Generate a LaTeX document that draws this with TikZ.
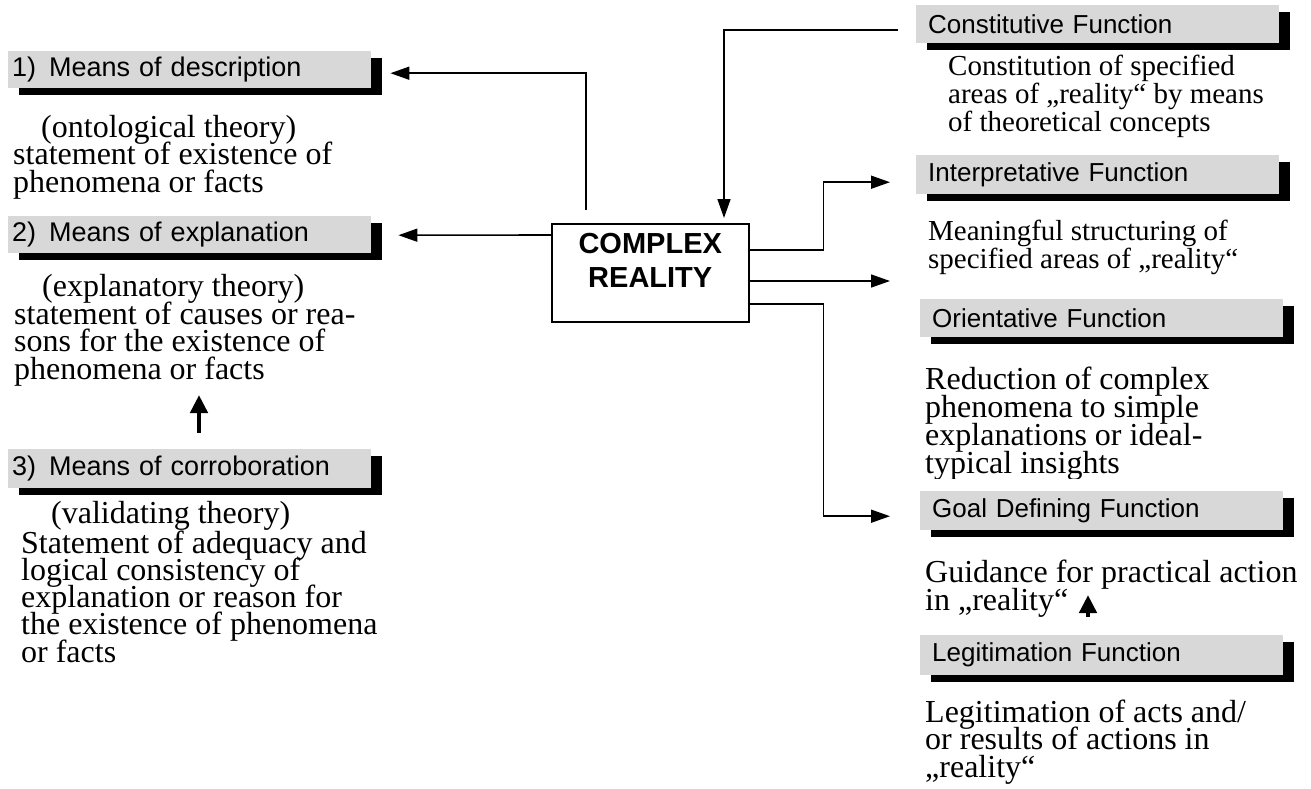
\documentclass[tikz,border=0pt]{standalone}
\usepackage{fontspec}
\setmainfont{Liberation Serif}
\setsansfont{Liberation Sans}
\usetikzlibrary{arrows.meta,shadows,calc}
\definecolor{hdrgray}{RGB}{216,216,216}
\newcommand\mytightlines{\lineskiplimit=-100pt\relax}
\begin{document}
\begin{tikzpicture}[x=1pt,y=-1pt,
  hdr/.style={fill=hdrgray, anchor=north west, inner ysep=0pt, align=left,
    drop shadow={shadow xshift=11pt, shadow yshift=-7pt, fill=black, opacity=1}},
  hdrL/.style={hdr, minimum width=363pt, inner xsep=4pt, text width=355pt,
    font=\sffamily\fontsize{27}{30}\selectfont},
  hdrR/.style={hdr, minimum width=363pt, inner xsep=12pt, text width=339pt,
    font=\sffamily\fontsize{26}{30}\selectfont},
  bodyL/.style={anchor=base west, inner sep=0pt, align=left,
    font={\rmfamily\fontsize{32}{27.5}\selectfont\mytightlines}},
  bodyR/.style={anchor=base west, inner sep=0pt, align=left,
    font={\rmfamily\fontsize{29}{28}\selectfont\mytightlines}},
  conn/.style={line width=1.6pt, -{Triangle[length=19pt,width=13pt]}},
  bigarrow/.style={line width=4.5pt, -{Triangle[length=18pt,width=17pt]}},
  crbox/.style={draw, line width=1.5pt, anchor=north west, minimum width=197pt, minimum height=98pt, inner sep=0pt},
  crtext/.style={font=\sffamily\bfseries\fontsize{29}{34}\selectfont, align=center, inner sep=0pt}
]
\useasboundingbox (0,0) rectangle (1311,788);

% left headers
\node[hdrL, minimum height=37pt] (h1) at (8,51) {1)\hspace{13pt}Means of description};
\node[hdrL, minimum height=37pt] (h2) at (8,216) {2)\hspace{13pt}Means of explanation};
\node[hdrL, minimum height=39pt] (h3) at (8,449) {3)\hspace{13pt}Means of corroboration};

% left bodies (anchor = baseline of last line)
\node[bodyL] (b1) at (13,192) {\hspace*{28pt}(ontological theory)\\statement of existence of\\phenomena or facts};
\begin{scope}
\clip (0,260) rectangle (400,385);
\node[bodyL] (b2) at (14,379) {\hspace*{28pt}(explanatory theory)\\statement of causes or rea-\\sons for the existence of\\phenomena or facts};
\end{scope}
\node[bodyL, font={\rmfamily\fontsize{32}{27.2}\selectfont\mytightlines}] (b3) at (21,662) {\hspace*{30pt}(validating theory)\\[2.5pt]Statement of adequacy and\\logical consistency of\\explanation or reason for\\the existence of phenomena\\or facts};

% right headers
\node[hdrR, minimum height=38pt] (r1) at (916,5) {Constitutive Function};
\node[hdrR, minimum height=39pt] (r2) at (916,155) {Interpretative Function};
\node[hdrR, minimum height=38pt] (r3) at (920,299) {Orientative Function};
\node[hdrR, minimum height=39pt] (r4) at (920,491) {Goal Defining Function};
\node[hdrR, minimum height=40pt] (r5) at (920,635) {Legitimation Function};

% right bodies
\node[bodyR] (rb1) at (948,131) {Constitution of specified\\areas of „reality“ by means\\of theoretical concepts};
\node[bodyR] (rb2) at (928,268) {Meaningful structuring of\\specified areas of „reality“};
\begin{scope}
\clip (900,350) rectangle (1311,478);
\node[bodyL, font={\rmfamily\fontsize{32}{27.7}\selectfont\mytightlines}] (rb3) at (925,473) {Reduction of complex\\phenomena to simple\\explanations or ideal-\\typical insights};
\end{scope}
\node[bodyL] (rb4) at (925,610) {Guidance for practical action\\in „reality“};
\node[bodyL] (rb5) at (925,777) {Legitimation of acts and/\\or results of actions in\\„reality“};

% center
\node[crbox] (cr) at (551,223) {};
\node[crtext] (crt) at ($(cr.center)+(0,-12)$) {COMPLEX\\REALITY};

% connectors
\draw[conn] ($(cr.north west)+(35,-13)$) |- ($(h1.east)+(19,3.5)$);
\draw[conn] ($(cr.north west)+(0,12)$) -- ($(h2.east)+(27,0.5)$);
\draw[conn] ($(r1.west)+(-18,6)$) -| ($(cr.north west)+(173,-5)$);
\draw[conn] ($(cr.north east)+(-2,27)$) -- ++(76,0) |- ($(r2.west)+(-26,7.5)$);
\coordinate (e2) at (890,281);
\draw[conn] ($(cr.north east)+(-2,58)$) -- (e2);
\draw[conn] ($(cr.north east)+(-2,81)$) -- ++(76,0) |- ($(r4.west)+(-30,5.5)$);

% small thick arrows
\draw[bigarrow] ($(h3.north west)+(191,-16)$) -- ++(0,-38);
\draw[bigarrow] ($(r5.north west)+(168,-18)$) -- ++(0,-22);
\end{tikzpicture}
\end{document}
